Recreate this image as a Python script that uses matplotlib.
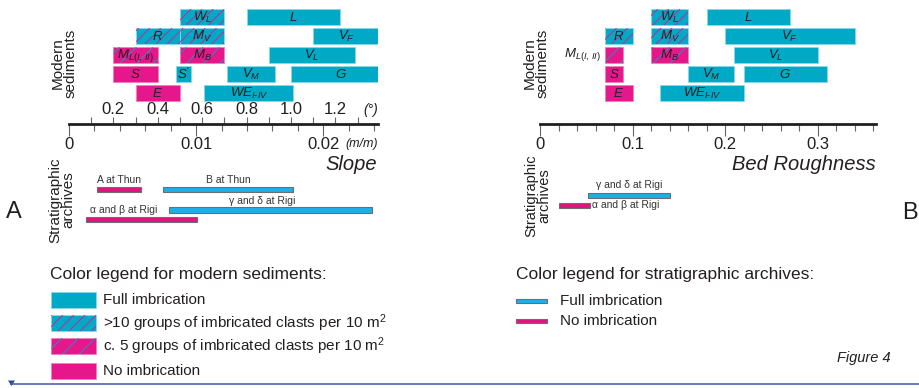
import numpy as np
import matplotlib
matplotlib.use("Agg")
import matplotlib.pyplot as plt
from matplotlib.patches import Rectangle, Polygon

plt.rcParams['font.family'] = ['Liberation Sans', 'DejaVu Sans']
plt.rcParams['mathtext.fontset'] = 'custom'
plt.rcParams['mathtext.rm'] = 'Liberation Sans'
plt.rcParams['mathtext.it'] = 'Liberation Sans:italic'
plt.rcParams['mathtext.bf'] = 'Liberation Sans:bold'
plt.rcParams['hatch.linewidth'] = 0.6

# ---- modern sediments vs slope (ranges in degrees) ----
slope_names = ['W_L', 'L', 'R', 'M_V', 'V_F', 'M_L', 'M_B', 'V_L', 'S', "S'", 'V_M', 'G', 'E', 'WE']
slope_rows = [0, 0, 1, 1, 1, 2, 2, 2, 3, 3, 3, 3, 4, 4]
slope_kind = ['dense', 'full', 'dense', 'dense', 'full', 'sparse', 'sparse', 'full',
              'none', 'full', 'full', 'full', 'none', 'full']
slope_lo_deg = [0.5, 0.8, 0.3, 0.5, 1.1, 0.2, 0.5, 0.9, 0.2, 0.48, 0.71, 1.0, 0.3, 0.61]
slope_hi_deg = [0.7, 1.22, 0.5, 0.7, 1.4, 0.4, 0.7, 1.29, 0.4, 0.55, 0.93, 1.45, 0.5, 1.01]

# ---- modern sediments vs bed roughness ----
rough_names = ['W_L', 'L', 'R', 'M_V', 'V_F', 'M_L', 'M_B', 'V_L', 'S', 'V_M', 'G', 'E', 'WE']
rough_rows = [0, 0, 1, 1, 1, 2, 2, 2, 3, 3, 3, 4, 4]
rough_kind = ['dense', 'full', 'dense', 'dense', 'full', 'sparse', 'sparse', 'full',
              'none', 'full', 'full', 'none', 'full']
rough_lo = [0.12, 0.18, 0.07, 0.12, 0.20, 0.07, 0.12, 0.21, 0.07, 0.16, 0.22, 0.07, 0.13]
rough_hi = [0.16, 0.27, 0.10, 0.16, 0.34, 0.09, 0.16, 0.30, 0.09, 0.21, 0.31, 0.10, 0.22]

# ---- stratigraphic archives ----
arch_slope_names = ['A at Thun', 'B at Thun', 'γ and δ at Rigi', 'α and β at Rigi']
arch_slope_imbr = [False, True, True, False]
arch_slope_lo = [0.0022, 0.0074, 0.0079, 0.0013]
arch_slope_hi = [0.0057, 0.0176, 0.0238, 0.0101]

arch_rough_names = ['γ and δ at Rigi', 'α and β at Rigi']
arch_rough_imbr = [True, False]
arch_rough_lo = [0.052, 0.020]
arch_rough_hi = [0.140, 0.054]

# tick marks
deg_major = [0.2, 0.4, 0.6, 0.8, 1.0, 1.2]
deg_minor = [0.1, 0.3, 0.5, 0.7, 0.9, 1.1, 1.3]
slope_major = [0, 0.01, 0.02]
rough_major = [0, 0.1, 0.2, 0.3]

LABELS = {
    'W_L': r'$W_L$', 'L': r'$L$', 'R': r'$R$', 'M_V': r'$M_V$', 'V_F': r'$V_F$',
    'M_L': r'$M_{L(I,\,II)}$', 'M_B': r'$M_B$', 'V_L': r'$V_L$', 'S': r'$S$',
    "S'": r"$S'$", 'V_M': r'$V_M$', 'G': r'$G$', 'E': r'$E$', 'WE': r'$WE_{I\text{-}IV}$',
}

CYAN = '#00aac6'
PINK = '#e6168b'
ARCH_CYAN = '#1cb0e8'
ARCH_PINK = '#e2147f'
INK = '#231f20'

# fill, hatch colour, hatch pattern
STYLE = {
    'full': (CYAN, None, None),
    'dense': (CYAN, PINK, '///'),
    'sparse': (PINK, CYAN, '//'),
    'none': (PINK, None, None),
}

W, H = 919, 388
fig = plt.figure(figsize=(W / 100, H / 100), dpi=100)


def px_axes(x0, y0, x1, y1):
    return fig.add_axes([x0 / W, 1 - y1 / H, (x1 - x0) / W, (y1 - y0) / H])


page = px_axes(0, 0, W, H)
page.set_xlim(0, W)
page.set_ylim(H, 0)
page.axis('off')

BAR_H = 0.86


def draw_sediments(ax, names, rows, kinds, lo, hi, outside=()):
    for n, r, k, a, b in zip(names, rows, kinds, lo, hi):
        face, hcol, hatch = STYLE[k]
        edge = '#8ad8e6' if face == CYAN else '#f27fbd'
        ax.barh(r, b - a, left=a, height=BAR_H, color=face, edgecolor=edge, linewidth=0.6)
        if hatch:
            ax.barh(r, b - a, left=a, height=BAR_H, fill=False, hatch=hatch,
                    edgecolor=hcol, linewidth=0)
        if n in outside:
            ax.annotate(LABELS[n], (a, r), xytext=(-3, 0), textcoords='offset points',
                        ha='right', va='center', fontsize=9.5, color=INK)
        else:
            ax.text((a + b) / 2, r + 0.05, LABELS[n], ha='center', va='center',
                    fontsize=9.5, color=INK)


def style_axis(ax, xmax, major, major_labels, minor):
    ax.set_xlim(0, xmax)
    ax.set_ylim(5.62, -0.5)
    ax.patch.set_visible(False)
    for s in ['top', 'left', 'right']:
        ax.spines[s].set_visible(False)
    ax.spines['bottom'].set_linewidth(2)
    ax.spines['bottom'].set_color(INK)
    ax.set_yticks([])
    ax.set_xticks(major, labels=major_labels)
    ax.set_xticks(minor, minor=True)
    ax.tick_params(axis='x', which='major', length=8.5, width=0.8, color='#666666',
                   labelsize=12, labelcolor=INK, pad=1.5)
    ax.tick_params(axis='x', which='minor', length=5, width=0.8, color='#666666')


# ---------------- left panel: slope ----------------
ax1 = px_axes(69, 7.3, 378, 123.5)
s_lo = np.tan(np.radians(slope_lo_deg))
s_hi = np.tan(np.radians(slope_hi_deg))
draw_sediments(ax1, slope_names, slope_rows, slope_kind, s_lo, s_hi)
style_axis(ax1, 309 / 12715, slope_major, ['0', '0.01', '0.02'],
           np.arange(0, 0.0243, 0.002))

deg = ax1.secondary_xaxis('bottom', functions=(lambda s: np.degrees(np.arctan(s)),
                                              lambda d: np.tan(np.radians(d))))
deg.set_xticks(deg_major, labels=[f'{d:.1f}' for d in deg_major])
deg.set_xticks(deg_minor, minor=True)
deg.tick_params(axis='x', which='both', top=True, bottom=False, labeltop=True,
                labelbottom=False, direction='out', length=4, width=0.8,
                color='#666666', labelsize=12, labelcolor=INK, pad=0.5)
for s in deg.spines.values():
    s.set_visible(False)

arch1 = px_axes(69, 170, 378, 232)
arch1.set_xlim(ax1.get_xlim())
arch1.set_ylim(232, 170)
arch1.axis('off')
arch1_y = [189.5, 189.5, 210, 219.5]
for name, imbr, a, b, y in zip(arch_slope_names, arch_slope_imbr, arch_slope_lo,
                               arch_slope_hi, arch1_y):
    arch1.barh(y, b - a, left=a, height=5.8, color=ARCH_CYAN if imbr else ARCH_PINK,
               edgecolor='#6d6e71', linewidth=0.8)
arch_text = dict(fontsize=7.5, color='#333333', textcoords='offset points')
arch1.annotate(arch_slope_names[0], ((arch_slope_lo[0] + arch_slope_hi[0]) / 2, arch1_y[0]),
               xytext=(0, 6.5), ha='center', va='center', **arch_text)
arch1.annotate(arch_slope_names[1], ((arch_slope_lo[1] + arch_slope_hi[1]) / 2, arch1_y[1]),
               xytext=(0, 6.5), ha='center', va='center', **arch_text)
arch1.annotate(arch_slope_names[2], ((arch_slope_lo[2] + arch_slope_hi[2]) / 2, arch1_y[2]),
               xytext=(-6, 6.5), ha='center', va='center', **arch_text)
arch1.annotate(arch_slope_names[3], (arch_slope_lo[3], arch1_y[3]),
               xytext=(3.5, 6.5), ha='left', va='center', **arch_text)

# ---------------- right panel: bed roughness ----------------
ax2 = px_axes(540, 7.3, 876, 123.5)
draw_sediments(ax2, rough_names, rough_rows, rough_kind, rough_lo, rough_hi,
               outside=('M_L',))
style_axis(ax2, 336 / 925.7, rough_major, ['0', '0.1', '0.2', '0.3'],
           np.arange(0, 0.363, 0.02))

arch2 = px_axes(540, 170, 876, 232)
arch2.set_xlim(ax2.get_xlim())
arch2.set_ylim(232, 170)
arch2.axis('off')
arch2_y = [195.5, 205.5]
for imbr, a, b, y in zip(arch_rough_imbr, arch_rough_lo, arch_rough_hi, arch2_y):
    arch2.barh(y, b - a, left=a, height=5.2, color=ARCH_CYAN if imbr else ARCH_PINK,
               edgecolor='#6d6e71', linewidth=0.8)
arch2.annotate(arch_rough_names[0], ((arch_rough_lo[0] + arch_rough_hi[0]) / 2, arch2_y[0]),
               xytext=(0, 7.5), ha='center', va='center', **arch_text)
arch2.annotate(arch_rough_names[1], (arch_rough_hi[1], arch2_y[1]),
               xytext=(1.5, 0), ha='left', va='center', **arch_text)

# ---------------- labels around the panels ----------------
side = dict(rotation=90, ha='center', va='center', ma='center',
            linespacing=0.95, color=INK)
page.text(64, 63, 'Modern\nsediments', fontsize=11, **side)
page.text(536, 63, 'Modern\nsediments', fontsize=11, **side)
page.text(62, 200, 'Stratigraphic\narchives', fontsize=11, **side)
page.text(538, 196, 'Stratigraphic\narchives', fontsize=10.5, **side)

page.text(14, 212, 'A', fontsize=17, ha='center', va='center', color=INK)
page.text(910, 213, 'B', fontsize=17, ha='center', va='center', color=INK)

page.text(371, 110, '(°)', fontsize=10, style='italic', ha='center', va='center', color=INK)
page.text(378, 144, '(m/m)', fontsize=9, style='italic', ha='right', va='center', color=INK)
page.text(377, 164, 'Slope', fontsize=14.5, style='italic', ha='right', va='center', color=INK)
page.text(876, 164, 'Bed Roughness', fontsize=14.5, style='italic', ha='right', va='center',
          color=INK)

# ---------------- legends ----------------
page.text(50, 275, 'Color legend for modern sediments:', fontsize=12.5, va='center', color=INK)
leg_items = [('full', 'Full imbrication'),
             ('dense', r'>10 groups of imbricated clasts per 10 m$^{2}$'),
             ('sparse', r'c. 5 groups of imbricated clasts per 10 m$^{2}$'),
             ('none', 'No imbrication')]
leg_y = [292, 314.5, 337.5, 362.5]
for (kind, text), y in zip(leg_items, leg_y):
    face, hcol, hatch = STYLE[kind]
    edge = '#8ad8e6' if face == CYAN else '#f27fbd'
    page.add_patch(Rectangle((51, y), 45, 16, facecolor=face, edgecolor=edge, linewidth=0.6))
    if hatch:
        page.add_patch(Rectangle((51, y), 45, 16, fill=False, hatch=hatch, edgecolor=hcol,
                                 linewidth=0))
    page.text(103, y + 8.5, text, fontsize=11, va='center', color=INK)

page.text(516, 275, 'Color legend for stratigraphic archives:', fontsize=12.5, va='center',
          color=INK)
for imbr, text, y in [(True, 'Full imbrication', 301), (False, 'No imbrication', 321)]:
    page.add_patch(Rectangle((516, y - 2.3), 31, 4.6, facecolor=ARCH_CYAN if imbr else ARCH_PINK,
                             edgecolor='#6d6e71', linewidth=0.8))
    page.text(560, y, text, fontsize=11, va='center', color=INK)

page.text(891, 358, 'Figure 4', fontsize=10.5, style='italic', ha='right', va='center',
          color=INK)

# page rule at the bottom
page.plot([10, W], [384, 384], color='#3b5ba5', linewidth=1.1, solid_capstyle='butt')
page.add_patch(Polygon([[8, 380.5], [15, 380.5], [11.5, 386]], closed=True,
                       facecolor='#2a4a9a', edgecolor='none'))

fig.savefig('out.png', dpi=100)
